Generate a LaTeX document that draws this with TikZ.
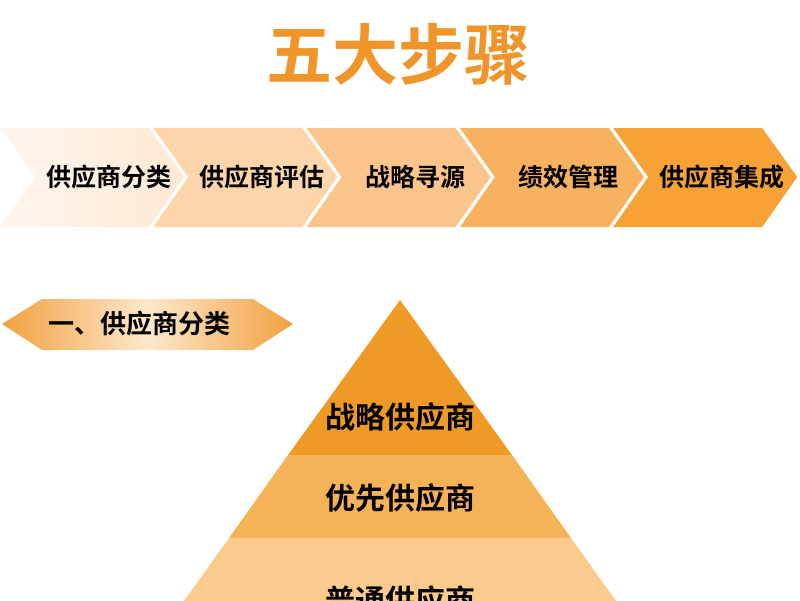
\documentclass[tikz,border=0pt]{standalone}
\usepackage{fontspec}
\setmainfont{Noto Sans CJK SC}[BoldFont={Noto Sans CJK SC Bold}]
\usepackage{tikz}
\usetikzlibrary{positioning}

\definecolor{titleorange}{HTML}{F0952A}
\definecolor{cA}{HTML}{FEE9D4}
\definecolor{cB}{HTML}{FDD5AB}
\definecolor{cC}{HTML}{FBC48A}
\definecolor{cD}{HTML}{F8B25F}
\definecolor{cE}{HTML}{F6A236}
\definecolor{bannerend}{HTML}{F2A140}
\definecolor{bannermid}{HTML}{FDE8CC}
\definecolor{tierA}{HTML}{EF9A26}
\definecolor{tierB}{HTML}{F6B256}
\definecolor{tierC}{HTML}{FBCB8E}

\begin{document}
\begin{tikzpicture}[x=1pt,y=-1pt,
				chev0/.style={left color=white!60!cA, right color=cA, shading angle=90},
				chev1/.style={fill=cB},
				chev2/.style={fill=cC},
				chev3/.style={fill=cD},
				chev4/.style={fill=cE},
				stepbox/.style={inner sep=0pt, font=\bfseries\fontsize{25}{25}\selectfont}
				,tierbox/.style={inner sep=0pt, font=\bfseries\fontsize{30}{30}\selectfont}
				]
				\useasboundingbox (0,0) rectangle (800,600);
				\clip (0,0) rectangle (800,600);
				
				\node[inner sep=0pt, text=titleorange, font=\bfseries\fontsize{66}{66}\selectfont] (title) at (398,54) {五大步骤};
				
				% five steps
				\foreach \i/\txt in {0/供应商分类,1/供应商评估,2/战略寻源,3/绩效管理,4/供应商集成}{
					\pgfmathsetmacro\s{153.3*\i}
					\path[chev\i] (\s,128) -- ++(149,0) -- ++(35,49) -- ++(-35,50) -- ++(-149,0) -- ++(35,-50) -- cycle;
					\node[stepbox] (step\i) at (\s+109,177) {\txt};
				}
				
				% banner
				\shade[left color=bannerend, right color=bannerend, middle color=bannermid]
				(2,324) -- (42,299) -- (253,299) -- (293,324) -- (253,350) -- (42,350) -- cycle;
				\node[inner sep=0pt, font=\bfseries\fontsize{26}{26}\selectfont] (banner) at (139,324) {一、供应商分类};
				
				% pyramid
				\fill[tierA] (400,300) -- (512,455) -- (288,455) -- cycle;
				\fill[tierB] (288,455) -- (512,455) -- (571,538) -- (229,538) -- cycle;
				\fill[tierC] (229,538) -- (571,538) -- (644,640) -- (156,640) -- cycle;
				\node[tierbox] (strategic) at (400,417) {战略供应商};
				\node[tierbox] (preferred) at (400,498) {优先供应商};
				\node[tierbox] (ordinary) at (400,600) {普通供应商};
			\end{tikzpicture}
\end{document}
